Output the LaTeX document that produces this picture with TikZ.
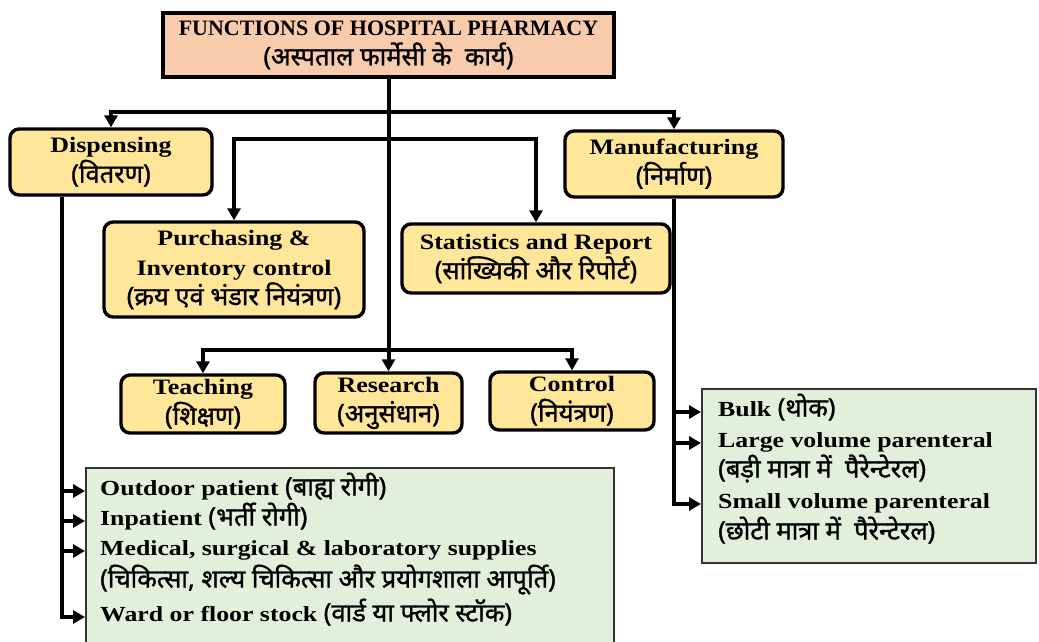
\documentclass[tikz,border=0pt]{standalone}
\usepackage{fontspec}
\usetikzlibrary{arrows.meta,calc}
\setmainfont{Liberation Serif}
\newfontfamily\latw[FakeStretch=1.2]{Liberation Serif}
\newfontfamily\latb[FakeStretch=1.18]{Liberation Serif}
\newfontfamily\devfont[Script=Devanagari, FakeBold=1.2]{Noto Sans}
\newcommand\hin[1]{{\devfont\fontsize{25.5}{30}\selectfont #1}}
\newcommand\bodyfont{\latw\bfseries\fontsize{21.5}{30}\selectfont}
\newcommand\boxfont{\latb\bfseries\fontsize{22}{30}\selectfont}
\definecolor{peach}{HTML}{F8CBAD}
\definecolor{boxyellow}{HTML}{FFE699}
\definecolor{boxgreen}{HTML}{E2EFDA}
\begin{document}
\begin{tikzpicture}[x=1pt,y=-1pt,
  every node/.style={inner sep=0pt},
  ybox/.style={draw, line width=3.4pt, rounded corners=9pt, fill=boxyellow, align=center, font=\boxfont},
  gbox/.style={draw=black!80, line width=1.5pt, fill=boxgreen},
  lineitem/.style={anchor=west, text height=14pt, text depth=5pt, font=\bodyfont},
  arr/.style={line width=4pt, -{Triangle[length=12pt,width=13pt]}}]
\useasboundingbox (0,0) rectangle (1039,641);

% title
\node[draw, line width=3.4pt, fill=peach, minimum width=451pt, minimum height=64pt, align=center,
      font=\bfseries\fontsize{22}{30}\selectfont] (title) at (388.5,45)
  {FUNCTIONS OF HOSPITAL PHARMACY\\ \hin{(अस्पताल फार्मेसी के~ कार्य)}};

% yellow boxes
\node[ybox, minimum width=202pt, minimum height=66pt] (disp) at (111,162) {Dispensing\\ \hin{(वितरण)}};
\node[ybox, minimum width=218pt, minimum height=66pt] (manu) at (674,164) {Manufacturing\\ \hin{(निर्माण)}};
\node[ybox, minimum width=260pt, minimum height=95pt] (purch) at (234,269.5) {Purchasing \&\\ Inventory control\\ \hin{(क्रय एवं भंडार नियंत्रण)}};
\node[ybox, minimum width=268pt, minimum height=69pt] (stat) at (536,258.5) {Statistics and Report\\ \hin{(सांख्यिकी और रिपोर्ट)}};
\node[ybox, minimum width=164pt, minimum height=58pt] (teach) at (203,404) {Teaching\\ \hin{(शिक्षण)}};
\node[ybox, minimum width=147pt, minimum height=60pt] (res) at (388.5,403) {Research\\ \hin{(अनुसंधान)}};
\node[ybox, minimum width=164pt, minimum height=58pt] (ctrl) at (572,401) {Control\\ \hin{(नियंत्रण)}};

% green boxes
\node[gbox, anchor=north west, minimum width=528pt, minimum height=200pt] (gb1) at (85,467) {};
\node[gbox, anchor=north west, minimum width=334pt, minimum height=174pt] (gb2) at (701,388) {};

\node[lineitem] (o1) at (100,491) {Outdoor patient \hin{(बाह्य रोगी)}};
\node[lineitem] (o2) at (100,521) {Inpatient \hin{(भर्ती रोगी)}};
\node[lineitem] (o3) at (100,551) {Medical, surgical \& laboratory supplies};
\node[lineitem] (o4) at (100,583) {\hin{(चिकित्सा, शल्य चिकित्सा और प्रयोगशाला आपूर्ति)}};
\node[lineitem] (o5) at (100,617) {Ward or floor stock \hin{(वार्ड या फ्लोर स्टॉक)}};

\node[lineitem] (m1) at (718,412) {Bulk \hin{(थोक)}};
\node[lineitem] (m2) at (718,443) {Large volume parenteral};
\node[lineitem] (m3) at (718,473) {\hin{(बड़ी मात्रा में~ पैरेन्टेरल)}};
\node[lineitem] (m4) at (718,504) {Small volume parenteral};
\node[lineitem] (m5) at (718,535) {\hin{(छोटी मात्रा में~ पैरेन्टेरल)}};

% connectors
\path (title.south) ++(0,33) coordinate (j1);
\path (title.south) ++(0,60) coordinate (j2);
\path (title.south) ++(0,271) coordinate (j3);
\draw[arr] (title.south) -- (res.north);
\draw[arr] (j1) -| (disp.north);
\draw[arr] (j1) -| (manu.north);
\draw[arr] (j2) -| (purch.north);
\draw[arr] (j2) -| (stat.north);
\draw[arr] (j3) -| (teach.north);
\draw[arr] (j3) -| (ctrl.north);

\coordinate (dtr) at ([xshift=-49pt]disp.south);
\draw[arr] (dtr) |- (gb1.west |- o5.west);
\draw[arr] (dtr |- o1.west) -- (gb1.west |- o1.west);
\draw[arr] (dtr |- o2.west) -- (gb1.west |- o2.west);
\draw[arr] (dtr |- o3.west) -- (gb1.west |- o3.west);

\draw[arr] (manu.south) |- (gb2.west |- m4.west);
\draw[arr] (manu.south |- m1.west) -- (gb2.west |- m1.west);
\draw[arr] (manu.south |- m2.west) -- (gb2.west |- m2.west);
\end{tikzpicture}
\end{document}
